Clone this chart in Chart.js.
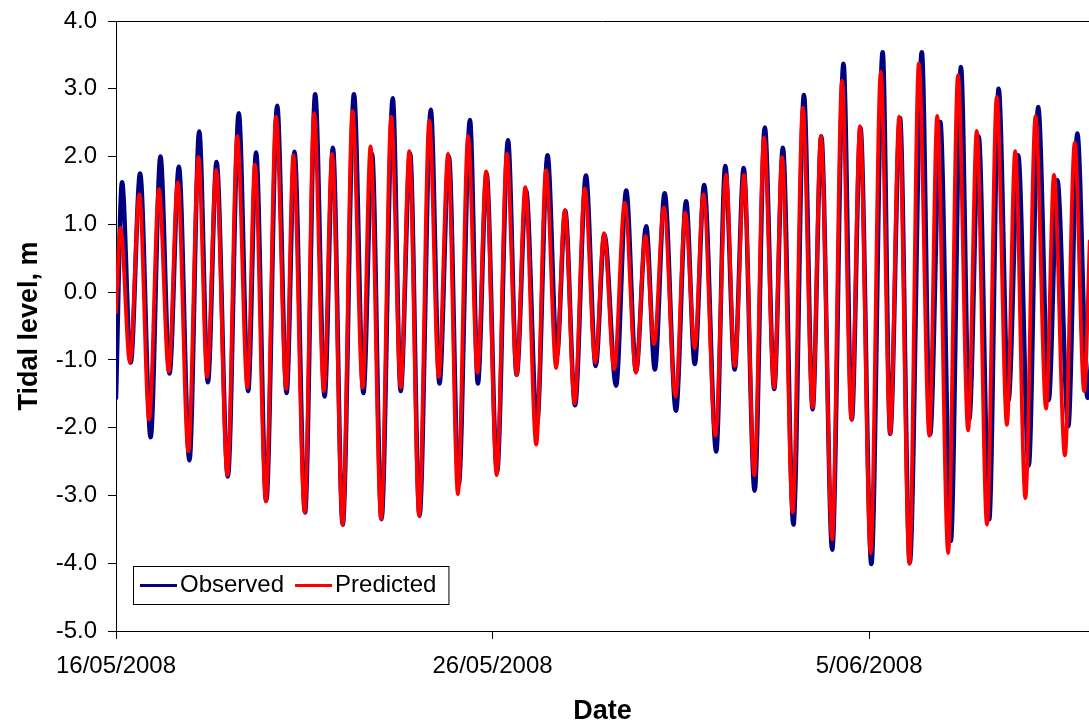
<!DOCTYPE html>
<html>
<head>
<meta charset="utf-8">
<title>Tidal level</title>
<script src="https://cdn.jsdelivr.net/npm/chart.js@4.4.1/dist/chart.umd.min.js"></script>
<style>
  html, body { margin: 0; padding: 0; background: #fff; }
  #wrap { width: 1089px; height: 728px; }
</style>
</head>
<body>
<div id="wrap"><canvas id="tideChart"></canvas></div>
<script>
// High / low water, days after 16/05/2008 00:00
const obsDays = [0.00, 0.16, 0.39, 0.64, 0.92, 1.18, 1.42, 1.67, 1.95, 2.21, 2.44, 2.67, 2.97, 3.26, 3.51, 3.72, 3.99,
  4.28, 4.53, 4.74, 5.02, 5.29, 5.54, 5.76, 6.02, 6.32, 6.57, 6.80, 7.05, 7.35, 7.56, 7.81, 8.06, 8.36, 8.59, 8.84,
  9.10, 9.40, 9.61, 9.84, 10.12, 10.41, 10.64, 10.89, 11.18, 11.46, 11.71, 11.93, 12.19, 12.48, 12.74, 12.97, 13.28,
  13.55, 13.81, 14.08, 14.31, 14.57, 14.87, 15.14, 15.37, 15.62, 15.94, 16.18, 16.43, 16.67, 16.96, 17.23, 17.48,
  17.71, 17.99, 18.27, 18.50, 18.73, 19.02, 19.32, 19.54, 19.77, 20.06, 20.36, 20.56, 20.82, 21.08, 21.40, 21.62,
  21.89, 22.17, 22.44, 22.66, 22.91, 23.19, 23.44, 23.70, 23.96, 24.24, 24.49, 24.77, 25.00, 25.29, 25.53, 25.80, 25.90];
const obsLevels = [-1.56, 1.62, -1.04, 1.75, -2.14, 2.00, -1.20, 1.85, -2.48, 2.37, -1.33, 1.92, -2.72, 2.64, -1.46, 2.06, -3.08,
  2.75, -1.49, 2.07, -3.25, 2.92, -1.54, 2.13, -3.43, 2.92, -1.49, 2.04, -3.35, 2.86, -1.46, 2.05, -3.30, 2.69, -1.35, 2.00,
  -2.85, 2.54, -1.35, 1.75, -2.65, 2.24, -1.22, 1.50, -1.95, 2.02, -0.93, 1.20, -1.67, 1.72, -1.09, 0.85, -1.38,
  1.50, -1.17, 0.97, -1.14, 1.46, -1.75, 1.34, -1.06, 1.58, -2.35, 1.86, -1.14, 1.83, -2.93, 2.43, -1.43,
  2.13, -3.43, 2.91, -1.73, 2.30, -3.80, 3.37, -1.88, 2.42, -4.01, 3.54, -2.09, 2.57, -3.99, 3.54, -2.10,
  2.51, -3.67, 3.32, -1.88, 2.30, -3.35, 3.00, -1.60, 2.02, -2.56, 2.73, -1.59, 1.65, -1.98, 2.34, -1.56, -1.00];

const predDays = [0.00, 0.12, 0.37, 0.62, 0.88, 1.14, 1.40, 1.64, 1.92, 2.19, 2.42, 2.66, 2.96, 3.22, 3.49, 3.69, 3.98,
  4.25, 4.52, 4.71, 5.01, 5.26, 5.52, 5.74, 6.02, 6.28, 6.55, 6.76, 7.04, 7.31, 7.56, 7.79, 8.05, 8.32, 8.57, 8.82,
  9.08, 9.35, 9.60, 9.83, 10.11, 10.38, 10.64, 10.87, 11.16, 11.42, 11.69, 11.92, 12.18, 12.45, 12.73, 12.96, 13.23,
  13.51, 13.81, 14.06, 14.29, 14.55, 14.86, 15.12, 15.37, 15.60, 15.92, 16.20, 16.43, 16.68, 16.95, 17.21, 17.48,
  17.69, 17.97, 18.24, 18.50, 18.72, 19.02, 19.28, 19.53, 19.76, 20.04, 20.31, 20.56, 20.80, 21.07, 21.32, 21.60,
  21.81, 22.10, 22.36, 22.63, 22.86, 23.13, 23.39, 23.66, 23.88, 24.15, 24.42, 24.70, 24.91, 25.20, 25.46, 25.71, 25.86];
const predLevels = [-0.30, 0.95, -1.04, 1.44, -1.88, 1.52, -1.17, 1.62, -2.35, 1.99, -1.25, 1.80, -2.70, 2.30, -1.41, 1.88, -3.09,
  2.59, -1.43, 2.02, -3.25, 2.64, -1.46, 2.04, -3.43, 2.67, -1.41, 2.15, -3.35, 2.59, -1.41, 2.08, -3.30, 2.53, -1.25, 2.04,
  -2.98, 2.30, -1.19, 1.78, -2.70, 2.04, -1.22, 1.55, -2.25, 1.80, -1.12, 1.21, -1.64, 1.53, -1.04, 0.87, -1.14,
  1.32, -1.19, 0.83, -0.77, 1.25, -1.54, 1.17, -0.83, 1.44, -2.12, 1.73, -1.09, 1.73, -2.70, 2.28, -1.41,
  1.99, -3.25, 2.72, -1.70, 2.30, -3.65, 3.12, -1.88, 2.45, -3.85, 3.25, -2.09, 2.59, -4.01, 3.37, -2.12,
  2.60, -3.85, 3.20, -2.04, 2.38, -3.43, 2.88, -1.96, 2.08, -3.04, 2.60, -1.72, 1.73, -2.41, 2.20, -1.46, 0.75];

const seriesNames = ['Observed', 'Predicted'];
const tickDays = [0, 10, 20];
const tickLabels = ['16/05/2008', '26/05/2008', '5/06/2008'];
const lastDay = 25.84;

const FONT = '"Liberation Sans", Arial, sans-serif';
Chart.defaults.font.family = FONT;
Chart.defaults.color = '#000';

const toPoints = (days, levels) => days.map((d, i) => ({ x: d, y: levels[i] }));

// boxed legend in the lower left corner + top frame line
const legendBox = {
  id: 'legendBox',
  afterDraw(chart) {
    const { ctx, chartArea } = chart;
    const left = chartArea.left + 17;
    const top = chartArea.bottom - 65;
    const height = 38;
    ctx.save();
    ctx.font = '24px ' + FONT;
    ctx.textBaseline = 'middle';

    let width = 7;
    chart.data.datasets.forEach(ds => {
      width += 40 + ctx.measureText(ds.label).width + 11;
    });
    width += 1;

    ctx.fillStyle = '#fff';
    ctx.fillRect(left, top, width, height);
    ctx.strokeStyle = '#000';
    ctx.lineWidth = 1;
    ctx.strokeRect(left + 0.5, top + 0.5, width, height);

    let x = left + 7;
    const y = top + height / 2 + 0.5;
    chart.data.datasets.forEach(ds => {
      ctx.strokeStyle = ds.borderColor;
      ctx.lineWidth = 3;
      ctx.beginPath();
      ctx.moveTo(x, y);
      ctx.lineTo(x + 37, y);
      ctx.stroke();
      x += 40;
      ctx.fillStyle = '#000';
      ctx.fillText(ds.label, x, y);
      x += ctx.measureText(ds.label).width + 11;
    });

    ctx.strokeStyle = '#000';
    ctx.lineWidth = 1;
    ctx.beginPath();
    ctx.moveTo(chartArea.left, chartArea.top + 0.5);
    ctx.lineTo(chartArea.right, chartArea.top + 0.5);
    ctx.stroke();
    ctx.restore();
  }
};

new Chart(document.getElementById('tideChart'), {
  type: 'line',
  data: {
    datasets: [{
      label: seriesNames[0],
      data: toPoints(obsDays, obsLevels),
      borderColor: '#000080',
      borderWidth: 4.5,
      order: 1
    }, {
      label: seriesNames[1],
      data: toPoints(predDays, predLevels),
      borderColor: '#ff0000',
      borderWidth: 3.8,
      order: 0
    }]
  },
  options: {
    responsive: true,
    maintainAspectRatio: false,
    animation: false,
    devicePixelRatio: 1,
    layout: { padding: { top: 21, right: 0, left: 0, bottom: 0 } },
    elements: {
      point: { radius: 0 },
      line: { cubicInterpolationMode: 'monotone', fill: false, borderJoinStyle: 'round', borderCapStyle: 'round' }
    },
    plugins: {
      legend: { display: false },
      tooltip: { enabled: false }
    },
    scales: {
      x: {
        type: 'linear',
        min: 0,
        max: lastDay,
        afterBuildTicks: scale => { scale.ticks = tickDays.map(v => ({ value: v })); },
        afterFit: scale => { scale.height = 97; },
        grid: { drawOnChartArea: false, tickLength: 8, color: '#000' },
        border: { color: '#000', width: 1 },
        ticks: {
          font: { size: 24 },
          padding: 13,
          maxRotation: 0,
          callback: v => tickLabels[tickDays.indexOf(v)]
        },
        title: { display: true, text: 'Date', font: { size: 27, weight: 'bold' }, padding: { top: 0, bottom: 0 } }
      },
      y: {
        min: -5,
        max: 4,
        afterFit: scale => {
          scale.width = 116;
          scale.paddingTop = 0;
          scale.paddingBottom = 0;
        },
        grid: { drawOnChartArea: false, tickLength: 8, color: '#000' },
        border: { color: '#000', width: 1 },
        ticks: {
          stepSize: 1,
          font: { size: 24 },
          padding: 11,
          callback: v => v.toFixed(1)
        },
        title: { display: true, text: 'Tidal level, m', font: { size: 27, weight: 'bold' }, padding: { top: 13, bottom: 0 } }
      }
    }
  },
  plugins: [legendBox]
});
</script>
</body>
</html>
